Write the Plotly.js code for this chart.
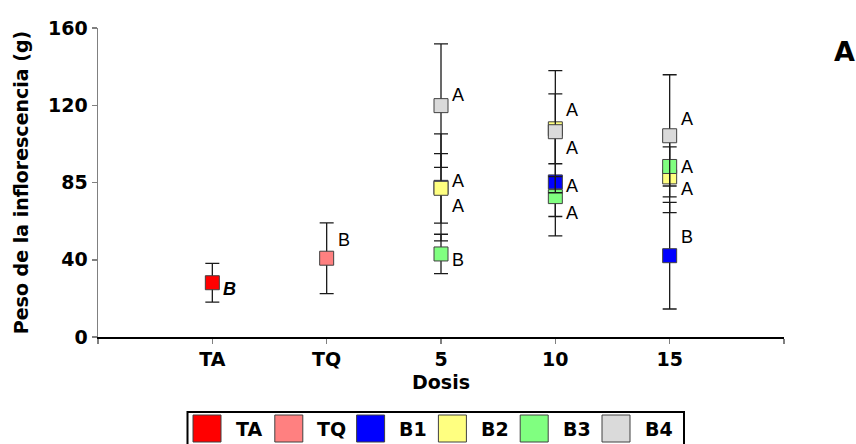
<!DOCTYPE html>
<html>
<head>
<meta charset="utf-8">
<script src="https://cdn.plot.ly/plotly-3.0.1.min.js"></script>
<style>html,body{margin:0;padding:0;background:#fff;}#chart{width:856px;height:444px;}</style>
</head>
<body>
<div id="chart"></div>
<script>
// ---- data ----
const categories = ['TA', 'TQ', '5', '10', '15'];
const seriesNames = ['TA', 'TQ', 'B1', 'B2', 'B3', 'B4'];
const seriesColors = ['#FF0000', '#FF8080', '#0000FF', '#FFFF80', '#80FF80', '#DADADA'];

const taX = ['TA'];
const taY = [28.1];
const taErr = [10.0];
const taLabels = ['B'];
const taLabelY = [24.8];

const tqX = ['TQ'];
const tqY = [40.8];
const tqErr = [18.3];
const tqLabels = ['B'];
const tqLabelY = [50.0];

const dosisX = ['5', '10', '15'];
const b1Y = [77.5, 80.3, 42.1];
const b1Err = [27.7, 27.9, 27.6];
const b1Labels = ['A', 'A', 'B'];
const b1LabelY = [81.0, 78.2, 51.7];

const b2Y = [77.0, 107.8, 82.9];
const b2Err = [18.0, 18.1, 18.5];
const b2Labels = ['A', 'A', 'A'];
const b2LabelY = [67.6, 117.6, 76.6];

const b3Y = [43.0, 72.7, 88.3];
const b3Err = [10.2, 10.3, 10.1];
const b3Labels = ['B', 'A', 'A'];
const b3LabelY = [40.0, 64.1, 87.9];

const b4Y = [119.8, 106.3, 104.2];
const b4Err = [32.0, 31.6, 31.6];
const b4Labels = ['A', 'A', 'A'];
const b4LabelY = [125.3, 98.0, 113.1];

const yTickVals = [0, 40, 80, 120, 160];
const yTickText = ['0', '40', '85', '120', '160'];

// ---- build ----
const idx = c => categories.indexOf(c) + 1;
const groups = [
  {x: taX, y: taY, e: taErr, lab: taLabels, ly: taLabelY, italic: true},
  {x: tqX, y: tqY, e: tqErr, lab: tqLabels, ly: tqLabelY},
  {x: dosisX, y: b1Y, e: b1Err, lab: b1Labels, ly: b1LabelY},
  {x: dosisX, y: b2Y, e: b2Err, lab: b2Labels, ly: b2LabelY},
  {x: dosisX, y: b3Y, e: b3Err, lab: b3Labels, ly: b3LabelY},
  {x: dosisX, y: b4Y, e: b4Err, lab: b4Labels, ly: b4LabelY}
];

const traces = groups.map((g, i) => ({
  type: 'scatter',
  mode: 'markers',
  name: seriesNames[i],
  x: g.x.map(idx),
  y: g.y,
  cliponaxis: false,
  marker: {symbol: 'square', size: 14, color: seriesColors[i], line: {color: '#404040', width: 1}},
  error_y: {type: 'data', array: g.e, visible: true, color: '#1a1a1a', thickness: 1.3, width: 7},
  showlegend: false,
  hoverinfo: 'x+y'
}));

const annotations = [];
groups.forEach(g => {
  g.lab.forEach((t, j) => {
    annotations.push({
      x: idx(g.x[j]), y: g.ly[j], xref: 'x', yref: 'y',
      text: g.italic ? '<b><i>' + t + '</i></b>' : t,
      showarrow: false, xanchor: 'center', yanchor: 'middle', xshift: 17,
      font: {family: 'Liberation Sans, Arial, sans-serif', size: 18, color: '#000'}
    });
  });
});

// plot-area pixel helpers (for paper-positioned legend and panel letter)
const L = 98, R = 784, T = 28, B = 337;
const px = v => (v - L) / (R - L);
const py = v => (B - v) / (B - T);

annotations.push({
  x: px(844), y: py(51), xref: 'paper', yref: 'paper', text: 'A', showarrow: false,
  xanchor: 'center', yanchor: 'middle',
  font: {family: 'DejaVu Sans, sans-serif', size: 27, color: '#000', weight: 700}
});

const shapes = [];
// legend box
shapes.push({type: 'rect', xref: 'paper', yref: 'paper', x0: px(187.5), x1: px(684), y0: py(412), y1: py(447),
  line: {color: '#000', width: 2}, fillcolor: 'rgba(0,0,0,0)'});
seriesNames.forEach((n, i) => {
  const x0 = 193 + i * 81.8;
  shapes.push({type: 'rect', xref: 'paper', yref: 'paper', x0: px(x0), x1: px(x0 + 28), y0: py(415), y1: py(442),
    line: {color: '#404040', width: 1}, fillcolor: seriesColors[i]});
  annotations.push({x: px(x0 + 40.5), y: py(428.5), xref: 'paper', yref: 'paper', text: n, showarrow: false,
    xanchor: 'left', yanchor: 'middle',
    font: {family: 'DejaVu Sans, sans-serif', size: 19, color: '#000', weight: 700}});
});

const boldFont = {family: 'DejaVu Sans, sans-serif', size: 19, color: '#000', weight: 700};

const layout = {
  width: 856, height: 444,
  margin: {l: L, r: 856 - R, t: T, b: 444 - B, pad: 0},
  paper_bgcolor: '#fff', plot_bgcolor: '#fff',
  showlegend: false,
  xaxis: {
    range: [0, 6], tickmode: 'array', tickvals: [0, 1, 2, 3, 4, 5, 6],
    ticktext: ['', ...categories, ''],
    showgrid: false, zeroline: false, showline: true, linecolor: '#000', linewidth: 1.5,
    ticks: 'outside', ticklen: 5, tickcolor: '#808080', tickwidth: 1.5,
    tickfont: boldFont, fixedrange: true,
    title: {text: 'Dosis', font: boldFont, standoff: 6}
  },
  yaxis: {
    range: [0, 160], tickmode: 'array', tickvals: yTickVals, ticktext: yTickText,
    showgrid: false, zeroline: false, showline: true, linecolor: '#808080', linewidth: 1.5,
    ticks: 'outside', ticklen: 5, tickcolor: '#808080', tickwidth: 1.5,
    tickfont: boldFont, fixedrange: true,
    title: {text: 'Peso de la inflorescencia (g)', font: boldFont, standoff: 14}
  },
  shapes: shapes,
  annotations: annotations
};

Plotly.newPlot('chart', traces, layout, {displayModeBar: false, staticPlot: true});
</script>
</body>
</html>
